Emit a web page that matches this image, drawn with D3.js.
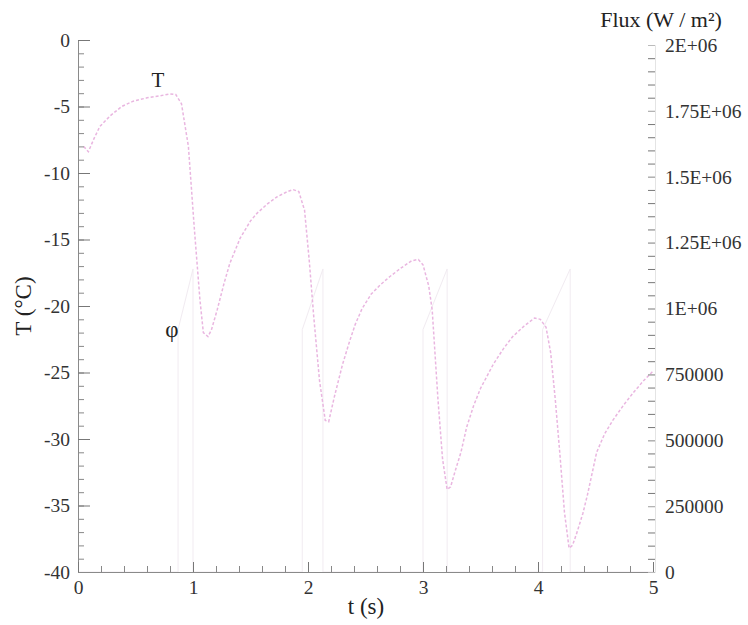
<!DOCTYPE html>
<html>
<head>
<meta charset="utf-8">
<script src="https://cdn.jsdelivr.net/npm/d3@7"></script>
<style>
  html, body { margin: 0; padding: 0; background: #fff; }
  svg { display: block; }
</style>
</head>
<body>
<svg id="chart" width="748" height="625"></svg>
<script>
// ---- data ----
const tempTime = [0.05,0.09,0.14,0.19,0.28,0.38,0.48,0.6,0.71,0.8,0.85,0.9,0.96,1.01,1.06,1.09,1.13,1.16,1.21,1.27,1.32,1.41,1.5,1.56,1.65,1.73,1.82,1.87,1.92,1.97,2.01,2.05,2.1,2.15,2.18,2.23,2.3,2.36,2.41,2.47,2.55,2.63,2.71,2.8,2.9,2.96,3.0,3.05,3.08,3.13,3.17,3.21,3.24,3.28,3.33,3.38,3.44,3.5,3.61,3.7,3.78,3.88,3.97,4.02,4.07,4.11,4.15,4.19,4.23,4.27,4.3,4.34,4.39,4.43,4.51,4.58,4.65,4.74,4.83,4.92,5.0];
const tempValue = [-8.0,-8.4,-7.4,-6.5,-5.7,-5.0,-4.6,-4.35,-4.2,-4.05,-4.1,-4.8,-8.0,-14.0,-19.5,-22.0,-22.3,-21.8,-20.3,-18.3,-16.8,-14.9,-13.6,-13.0,-12.3,-11.8,-11.4,-11.25,-11.4,-12.8,-16.5,-20.8,-25.6,-28.6,-28.7,-26.8,-24.4,-22.7,-21.4,-20.2,-19.1,-18.4,-17.8,-17.2,-16.6,-16.5,-16.9,-18.5,-20.3,-27.0,-31.5,-33.8,-33.6,-32.4,-31.0,-29.1,-27.5,-26.2,-24.4,-23.2,-22.3,-21.5,-20.9,-21.0,-21.6,-23.5,-27.0,-31.1,-35.5,-38.2,-38.0,-37.0,-35.6,-34.2,-31.0,-29.6,-28.6,-27.5,-26.5,-25.6,-24.9];

const fluxTime  = [0,0.87,0.87,1.0,1.0,1.95,1.95,2.13,2.13,3.0,3.0,3.21,3.21,4.04,4.04,4.28,4.28,5];
const fluxValue = [0,0,920000,1150000,0,0,920000,1150000,0,0,920000,1150000,0,0,920000,1150000,0,0];

const xTicks = [0,1,2,3,4,5];
const xMinorTicks = d3.range(0, 5.0001, 0.2);
const leftTicks = [0,-5,-10,-15,-20,-25,-30,-35,-40];
const leftMinorTicks = d3.range(-40, 0.001, 1);
const rightTicks = [0,250000,500000,750000,1000000,1250000,1500000,1750000,2000000];
const rightTickLabels = ["0","250000","500000","750000","1E+06","1.25E+06","1.5E+06","1.75E+06","2E+06"];
const rightMinorTicks = d3.range(0, 2000001, 50000);

const FONT = "Liberation Serif, serif";

// ---- scales ----
const svg = d3.select("#chart");
const x = d3.scaleLinear().domain([0,5]).range([78,653]);
const yL = d3.scaleLinear().domain([-40,0]).range([572,40]);
const yR = d3.scaleLinear().domain([0,2000000]).range([572,45]);

// ---- flux series (very faint) ----
const fluxData = fluxTime.map((t,i)=>({t, v: fluxValue[i]}));
svg.append("path")
  .datum(fluxData)
  .attr("fill","none")
  .attr("stroke","#f1ebf1")
  .attr("stroke-width",1)
  .attr("d", d3.line().x(d=>x(d.t)).y(d=>yR(d.v)));

// ---- temperature series ----
const tempData = tempTime.map((t,i)=>({t, v: tempValue[i]}));
svg.append("path")
  .datum(tempData)
  .attr("fill","none")
  .attr("stroke","#e9b6e0")
  .attr("stroke-width",1.5)
  .attr("stroke-dasharray","3,2")
  .attr("d", d3.line().x(d=>x(d.t)).y(d=>yL(d.v)));

// ---- axes ----
function styleAxis(g){
  g.selectAll("path.domain").attr("stroke","#8a8a8a");
  g.selectAll(".tick line").attr("stroke","#777");
  g.selectAll(".tick text").attr("fill","#333")
    .style("font-family", FONT).style("font-size","19.5px");
}

// left
const gLm = svg.append("g").attr("transform","translate(78,0)")
  .call(d3.axisLeft(yL).tickValues(leftMinorTicks).tickSize(-6).tickFormat(""));
gLm.select("path.domain").remove();
gLm.selectAll(".tick line").attr("stroke","#888");
const gL = svg.append("g").attr("transform","translate(78,0)")
  .call(d3.axisLeft(yL).tickValues(leftTicks).tickSize(-12).tickPadding(8).tickFormat(d=>String(d)));
styleAxis(gL);

// bottom
const gBm = svg.append("g").attr("transform","translate(0,572)")
  .call(d3.axisBottom(x).tickValues(xMinorTicks).tickSize(-6).tickFormat(""));
gBm.select("path.domain").remove();
gBm.selectAll(".tick line").attr("stroke","#888");
const gB = svg.append("g").attr("transform","translate(0,572)")
  .call(d3.axisBottom(x).tickValues(xTicks).tickSize(-10).tickPadding(8).tickFormat(d=>String(d)));
styleAxis(gB);

// right
const gRm = svg.append("g").attr("transform","translate(655,0)")
  .call(d3.axisRight(yR).tickValues(rightMinorTicks).tickSize(-7).tickFormat(""));
gRm.select("path.domain").remove();
gRm.selectAll(".tick line").attr("stroke","#777");
const gR = svg.append("g").attr("transform","translate(655,0)")
  .call(d3.axisRight(yR).tickValues(rightTicks).tickSize(-7).tickPadding(10)
    .tickFormat((d,i)=>rightTickLabels[i]));
styleAxis(gR);
gR.select("path.domain").attr("stroke","#e4e4e4");
gR.selectAll(".tick line").attr("stroke","#bbb");

// ---- titles & labels ----
function label(sel, size){
  return sel.style("font-family", FONT).style("font-size", size + "px").attr("fill","#222");
}
label(svg.append("text"), 22).attr("x",661).attr("y",27).attr("text-anchor","middle")
  .text("Flux (W / m²)");
label(svg.append("text"), 23).attr("transform","translate(31,306) rotate(-90)").attr("text-anchor","middle")
  .text("T (°C)");
label(svg.append("text"), 23).attr("x",366).attr("y",614).attr("text-anchor","middle")
  .text("t (s)");
label(svg.append("text"), 21).attr("x",158).attr("y",87).attr("text-anchor","middle")
  .text("T");
label(svg.append("text"), 23).attr("x",172).attr("y",337).attr("text-anchor","middle")
  .text("φ");
</script>
</body>
</html>
